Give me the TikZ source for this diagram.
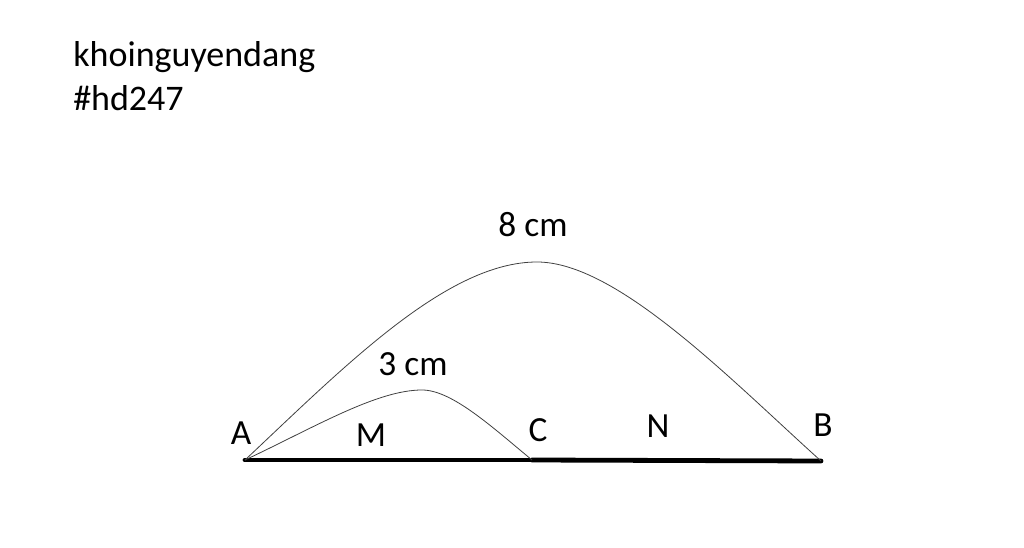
\documentclass[tikz,border=0pt]{standalone}
\usepackage{fontspec}
\setmainfont{Carlito}
\begin{document}
\begin{tikzpicture}[x=0.75pt,y=-0.75pt,
  lbl/.style={font=\fontsize{26.5}{31}\selectfont, inner sep=0pt, anchor=base},
  lblw/.style={lbl, font=\fontsize{27}{32}\selectfont, anchor=base west},
  arcline/.style={line width=0.6pt, black!75},
  seg/.style={line width=3.6pt, line cap=round}]
\useasboundingbox (0,0) rectangle (1024,548);
% points
\coordinate (A) at (245,460);
\coordinate (C) at (532,460);
\coordinate (B) at (821,461);
\coordinate (P8) at (537,262);
\coordinate (P3) at (422,390);
% base segments
\draw[seg] (A) -- (C);
\draw[seg] (C) -- (B);
% arcs
\draw[arcline] (A) .. controls (345,366) and (447,262) .. (P8)
  .. controls (617,262) and (730,379) .. (B);
\draw[arcline] (A) .. controls (315,427) and (377,390) .. (P3)
  .. controls (452,390) and (492,427) .. (C);
% labels
\node[lblw] (t1) at (73,67) {khoinguyendang};
\node[lblw] (t2) at (73,111) {\#hd247};
\node[lbl] (l8) at (533,237) {8 cm};
\node[lbl] (l3) at (413,376) {3 cm};
\node[lbl] (lA) at (241,445) {A};
\node[lbl] (lM) at (371,447) {M};
\node[lbl] (lC) at (538,442) {C};
\node[lbl] (lN) at (658,438) {N};
\node[lbl] (lB) at (823,437) {B};
\end{tikzpicture}
\end{document}
